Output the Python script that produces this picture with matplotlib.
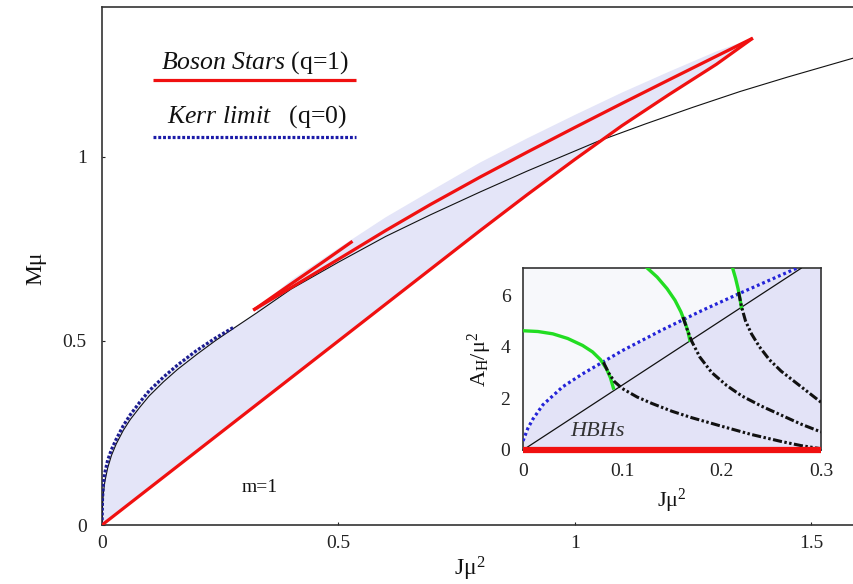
import matplotlib
matplotlib.use("Agg")
import matplotlib.pyplot as plt
import numpy as np

plt.rcParams['font.family'] = ['Liberation Serif', 'DejaVu Serif']
plt.rcParams['mathtext.fontset'] = 'custom'
plt.rcParams['mathtext.rm'] = 'Liberation Serif'
plt.rcParams['mathtext.it'] = 'Liberation Serif:italic'

# ---- main panel: M mu versus J mu^2 ----
# boson stars (q=1): lower branch from the origin to the cusp
bs_lower_J = [0.0, 0.2, 0.4, 0.6, 0.8, 0.9, 1.0, 1.1, 1.2, 1.3, 1.377]
bs_lower_M = [0.0, 0.2, 0.4, 0.6, 0.8, 0.898, 0.993, 1.085, 1.170, 1.252, 1.323]
# upper branch back from the cusp
bs_upper_J = [1.377, 1.3, 1.2, 1.1, 1.0, 0.9, 0.8, 0.695, 0.6, 0.5, 0.4, 0.32]
bs_upper_M = [1.323, 1.274, 1.210, 1.1455, 1.080, 1.0135, 0.9455, 0.871, 0.800,
              0.722, 0.645, 0.584]
# short spiral arm turning back up
bs_spiral_J = [0.32, 0.325, 0.4, 0.47, 0.53]
bs_spiral_M = [0.584, 0.588, 0.655, 0.717, 0.771]

# extremal Kerr (q=0)
kerr_J = [0.0, 0.001, 0.003, 0.006, 0.012, 0.02, 0.03, 0.045, 0.06, 0.08,
          0.1, 0.13, 0.16, 0.2, 0.24, 0.278]
kerr_M = [0.0, 0.072, 0.112, 0.142, 0.176, 0.205, 0.233, 0.27, 0.3, 0.334,
          0.365, 0.402, 0.435, 0.474, 0.508, 0.537]

# existence line
exist_J = [0.0, 0.001, 0.003, 0.006, 0.012, 0.02, 0.03, 0.045, 0.06, 0.08,
           0.1, 0.13, 0.16, 0.2, 0.24, 0.278, 0.328, 0.4, 0.5, 0.6, 0.695,
           0.8, 0.9, 1.05, 1.15, 1.25, 1.35, 1.45, 1.593]
exist_M = [0.0, 0.05, 0.088, 0.118, 0.155, 0.189, 0.22, 0.257, 0.287, 0.32,
           0.351, 0.389, 0.423, 0.463, 0.501, 0.534, 0.577, 0.641, 0.714, 0.784,
           0.843, 0.905, 0.962, 1.043, 1.090, 1.135, 1.178, 1.217, 1.27]

# upper edge of the hairy black hole domain, just above the upper branch
dom_J = [0.328, 0.4, 0.5, 0.6, 0.7, 0.8, 0.9, 1.0, 1.1, 1.2, 1.3, 1.377]
dom_M = [0.59, 0.665, 0.752, 0.836, 0.911, 0.985, 1.051, 1.114, 1.175, 1.232,
         1.287, 1.323]

# ---- inset: A_H mu^2 versus J mu^2 ----
ins_kerr_J = [0.0, 0.005, 0.01, 0.02, 0.04, 0.06, 0.08, 0.1, 0.14, 0.18, 0.22, 0.276]
ins_kerr_A = [0.35, 0.85, 1.2, 1.75, 2.45, 2.95, 3.4, 3.85, 4.65, 5.4, 6.1, 7.05]

ins_line_J = [0.0, 0.28]
ins_line_A = [0.0, 7.04]

green1_J = [0.0, 0.015, 0.03, 0.045, 0.06, 0.07, 0.078, 0.084, 0.088, 0.091]
green1_A = [4.62, 4.59, 4.5, 4.32, 4.05, 3.8, 3.5, 3.15, 2.8, 2.4]
green2_J = [0.125, 0.135, 0.145, 0.153, 0.159, 0.163, 0.166, 0.168]
green2_A = [7.05, 6.7, 6.25, 5.8, 5.35, 4.95, 4.6, 4.25]
green3_J = [0.211, 0.214, 0.2165, 0.2185, 0.22]
green3_A = [7.05, 6.65, 6.25, 5.85, 5.5]

dd1_J = [0.081, 0.086, 0.092, 0.1, 0.115, 0.13, 0.15, 0.17, 0.2, 0.23, 0.26,
         0.28, 0.3]
dd1_A = [3.4, 3.0, 2.65, 2.38, 2.05, 1.8, 1.5, 1.25, 0.92, 0.6, 0.33, 0.17, 0.05]
dd2_J = [0.161, 0.165, 0.17, 0.178, 0.19, 0.205, 0.22, 0.24, 0.26, 0.28, 0.3]
dd2_A = [5.15, 4.7, 4.2, 3.6, 3.0, 2.5, 2.1, 1.7, 1.35, 1.0, 0.7]
dd3_J = [0.217, 0.22, 0.224, 0.23, 0.238, 0.248, 0.26, 0.275, 0.29, 0.3]
dd3_A = [6.12, 5.55, 5.0, 4.5, 4.0, 3.5, 3.05, 2.6, 2.15, 1.85]

bs_ins_J = [0.0, 0.3]
bs_ins_A = [0.0, 0.0]

main_xticks = [0, 0.5, 1, 1.5]
main_xlabels = ['0', '0.5', '1', '1.5']
main_yticks = [0, 0.5, 1]
main_ylabels = ['0', '0.5', '1']
ins_xticks = [0, 0.1, 0.2, 0.3]
ins_xlabels = ['0', '0.1', '0.2', '0.3']
ins_yticks = [0, 2, 4, 6]
ins_ylabels = ['0', '2', '4', '6']

RED = '#f01010'
LAV = '#e4e5f8'
NAVY = '#1c1c90'
GREEN = '#22dd22'
SPINE = '#333333'

fig = plt.figure(figsize=(8.54, 5.84), dpi=100)
ax = fig.add_axes([102 / 854, 59 / 584, 752 / 854, 518 / 584])
ax.set_xlim(0, 1.591)
ax.set_ylim(0, 1.4076)

# shaded domain
poly_J = kerr_J + exist_J[16:17] + dom_J + bs_lower_J[::-1]
poly_M = kerr_M + exist_M[16:17] + dom_M + bs_lower_M[::-1]
ax.fill(poly_J, poly_M, color=LAV, lw=0, zorder=1)

ax.plot(exist_J, exist_M, color='#111111', lw=0.8, zorder=3)
ax.plot(kerr_J, kerr_M, color=NAVY, lw=2.3, dashes=(0.9, 0.6), zorder=4)
for bj, bm in [(bs_lower_J, bs_lower_M), (bs_upper_J, bs_upper_M),
               (bs_spiral_J, bs_spiral_M)]:
    ax.plot(bj, bm, color=RED, lw=2.3, zorder=5, solid_capstyle='butt',
            solid_joinstyle='round')

ax.spines['right'].set_visible(False)
for s in ['left', 'top', 'bottom']:
    ax.spines[s].set_color(SPINE)
    ax.spines[s].set_linewidth(1.2)

ax.set_xticks(main_xticks)
ax.set_xticklabels(main_xlabels)
ax.set_yticks(main_yticks)
ax.set_yticklabels(main_ylabels)
ax.tick_params(direction='in', length=2, width=0.8, labelsize=14,
               colors='#222222')
ax.tick_params(axis='x', pad=7)
ax.tick_params(axis='y', pad=11)

fig.text(470 / 854, 1 - 569 / 584, 'J$\\mathrm{μ^2}$', fontsize=17,
         ha='center', va='center', color='#111111')
fig.text(36 / 854, 1 - 268 / 584, 'Mμ', fontsize=17, rotation=90,
         ha='center', va='center', color='#111111')

ax.text(0.334, 0.103, 'm=1', fontsize=14, ha='center', va='center',
        color='#111111')

# legend entries, text above each sample line
ax.plot([0.068, 0.338], [0.859, 0.859], transform=ax.transAxes,
        color=RED, lw=2.3, solid_capstyle='butt', clip_on=False)
ax.plot([0.068, 0.338], [0.749, 0.749], transform=ax.transAxes,
        color='#1a1aa8', lw=2.3, dashes=(0.9, 0.6), clip_on=False)
ax.text(0.204, 0.893, '$\\mathit{Boson\\ Stars}$ (q=1)', transform=ax.transAxes,
        fontsize=18.5, ha='center', va='center', color='#111111')
ax.text(0.206, 0.789, '$\\mathit{Kerr\\ limit}$   (q=0)', transform=ax.transAxes,
        fontsize=18.5, ha='center', va='center', color='#111111')

# ---- inset ----
ins = fig.add_axes([523 / 854, (584 - 450) / 584, 298 / 854, 182 / 584])
ins.set_facecolor('#f7f8fb')
ins.set_xlim(0, 0.3)
ins.set_ylim(0, 7.05)

kx = np.array(ins_kerr_J + [0.3])
ka = np.array(ins_kerr_A + [7.05])
ins.fill_between(kx, 0, ka, color='#e3e3f7', lw=0, zorder=1)
# corner beyond the outermost arc
ins.fill(green3_J[:3] + ins_kerr_J[-2:], green3_A[:3] + ins_kerr_A[-2:],
         color='#e3e3f7', lw=0, zorder=1)

ins.plot(ins_line_J, ins_line_A, color='#111111', lw=0.9, zorder=3)
ins.plot(ins_kerr_J, ins_kerr_A, color='#2424d8', lw=2.3, dashes=(0.9, 0.9),
         zorder=4)
for gj, ga in [(green1_J, green1_A), (green2_J, green2_A), (green3_J, green3_A)]:
    ins.plot(gj, ga, color=GREEN, lw=2.4, zorder=5, solid_joinstyle='round')
for dj, da in [(dd1_J, dd1_A), (dd2_J, dd2_A), (dd3_J, dd3_A)]:
    ins.plot(dj, da, color='#111111', lw=2.2,
             dashes=(3.0, 0.8, 0.8, 0.8, 0.8, 0.8), zorder=6)
ins.plot(bs_ins_J, bs_ins_A, color=RED, lw=4.5, zorder=7, clip_on=False,
         solid_capstyle='butt')

ins.text(0.075, 0.7, 'HBHs', fontsize=16, style='italic', ha='center',
         va='center', color='#333333', zorder=8)

for s in ins.spines.values():
    s.set_color(SPINE)
    s.set_linewidth(1.2)
ins.set_xticks(ins_xticks)
ins.set_xticklabels(ins_xlabels)
ins.set_yticks(ins_yticks)
ins.set_yticklabels(ins_ylabels)
ins.tick_params(direction='in', length=0, labelsize=14, colors='#222222')
ins.tick_params(axis='x', pad=9)
ins.tick_params(axis='y', pad=9)
ins.set_xlabel('J$\\mathrm{μ^2}$', fontsize=16, labelpad=5, color='#111111')
ins.set_ylabel('$\\mathrm{A_H/μ^2}$', fontsize=16, labelpad=5, color='#111111')

fig.savefig('out.png', dpi=100)
